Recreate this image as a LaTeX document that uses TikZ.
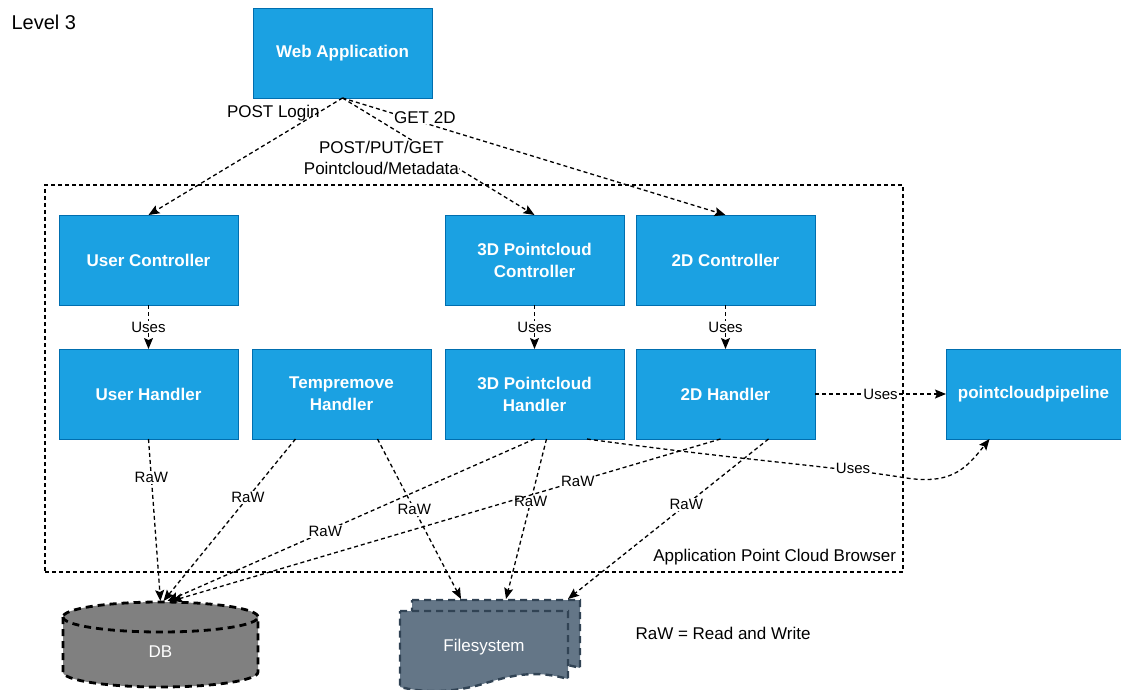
\documentclass[tikz,border=0pt]{standalone}
\usepackage{fontspec}
\setmainfont{Liberation Sans}
\usetikzlibrary{positioning,arrows.meta,calc}

\definecolor{compfill}{HTML}{1BA1E2}
\definecolor{compline}{HTML}{006EAF}
\definecolor{dbgray}{HTML}{808080}
\definecolor{fsfill}{HTML}{647687}
\definecolor{fsline}{HTML}{314354}

\tikzset{
  comp/.style={draw=compline, fill=compfill, text=white, align=center,
    minimum width=179pt, minimum height=90pt, outer sep=0pt,
    font=\fontsize{17}{22}\selectfont\bfseries},
  link/.style={line width=1.3pt, dash pattern=on 4pt off 3pt,
    -{Stealth[length=11pt,width=9pt,inset=2pt]}},
  lbl/.style={fill=white, inner sep=1pt, font=\fontsize{17}{21}\selectfont},
  rlbl/.style={fill=white, inner sep=1pt, font=\fontsize{15}{17}\selectfont},
}

\begin{document}
\begin{tikzpicture}[x=1pt, y=-1pt]
    \useasboundingbox (0,0) rectangle (1121,690);
    % Nodes
    \node[anchor=west, font=\fontsize{20}{24}\selectfont] (lvl) at (8,22) {Level 3};
    \node[comp] (web) at (342.5,53) {Web Application};

    \node[draw, line width=1.3pt, dash pattern=on 4pt off 3pt,
      minimum width=858pt, minimum height=387pt] (app) at (474,378.5) {};
    \node[anchor=south east, font=\fontsize{17}{21}\selectfont]
      (applbl) at ([xshift=-4pt,yshift=4pt]app.south east) {Application Point Cloud Browser};

    \node[comp] (uctrl) at (148.5,260) {User Controller};
    \node[comp] (pctrl) at (534.5,260) {3D Pointcloud\\Controller};
    \node[comp, right=12pt of pctrl] (dctrl) {2D Controller};

    \node[comp, below=44pt of uctrl] (uhand) {User Handler};
    \node[comp, right=14pt of uhand] (thand) {Tempremove\\Handler};
    \node[comp, right=14pt of thand] (phand) {3D Pointcloud\\Handler};
    \node[comp, right=12pt of phand] (dhand) {2D Handler};
    \node[comp, minimum width=175pt, right=131pt of dhand] (pipe) {pointcloudpipeline};

    % DB
    \draw[fill=dbgray, line width=2.8pt, dash pattern=on 7pt off 5pt]
      (63,617) -- (63,672) arc[start angle=180, end angle=0, x radius=97.5, y radius=15]
      -- (258,617) arc[start angle=0, end angle=-180, x radius=97.5, y radius=15] -- cycle;
    \draw[line width=2.8pt, dash pattern=on 7pt off 5pt]
      (63,617) arc[start angle=180, end angle=0, x radius=97.5, y radius=15];
    \node[text=white, font=\fontsize{17}{20}\selectfont] (db) at (160.5,652) {DB};
    \coordinate (dbtop) at (160.5,601);

    % Filesystem
    \draw[draw=fsline, fill=fsfill, line width=2.4pt, dash pattern=on 7pt off 5pt]
      (412,600) -- (580,600) -- (580,668) .. controls (552,660) and (530,662) .. (498,672)
      .. controls (466,682) and (436,682) .. (412,676) -- cycle;
    \draw[draw=fsline, fill=fsfill, line width=2.4pt, dash pattern=on 7pt off 5pt]
      (400,611) -- (568,611) -- (568,679) .. controls (540,671) and (518,673) .. (486,683)
      .. controls (454,693) and (424,693) .. (400,687) -- cycle;
    \node[text=white, font=\fontsize{17}{20}\selectfont] (fs) at (484,647) {Filesystem};
    \coordinate (fstop) at (490,599);

    \node[anchor=west, font=\fontsize{17}{21}\selectfont] (legend) at (632,633) {RaW = Read and Write};

    % Arrows
    \draw[link] (web.south) -- (uctrl.north)
      node[lbl, pos=0.13, anchor=east, xshift=4pt, fill=none] {POST Login};
    \draw[link] (web.south) -- (pctrl.north)
      node[lbl, pos=0.51, xshift=-59pt, align=center, inner sep=0pt] {POST/PUT/GET\\Pointcloud/Metadata};
    \draw[link] (web.south) -- (dctrl.north)
      node[lbl, pos=0.215, yshift=6pt] {GET 2D};

    \draw[link] (uctrl) -- (uhand) node[rlbl, midway] {Uses};
    \draw[link] (pctrl) -- (phand) node[rlbl, midway] {Uses};
    \draw[link] (dctrl) -- (dhand) node[rlbl, midway] {Uses};
    \draw[link] (dhand) -- (pipe) node[rlbl, midway] {Uses};
    \draw[link] ([xshift=-37pt]phand.south east)
      .. controls (740,460) and (830,466) .. (900,477)
      .. controls (950,486) and (965,470) .. ([xshift=-44pt]pipe.south);
    \node[rlbl] (usescurve) at (853,468) {Uses};

    \draw[link] (uhand.south) -- (dbtop) node[rlbl, pos=0.24] {RaW};
    \draw[link] ([xshift=-46pt]thand.south) -- ([xshift=3pt]dbtop) node[rlbl, pos=0.36] {RaW};
    \draw[link] ([xshift=36pt]thand.south) -- ([xshift=-29pt]fstop) node[rlbl, pos=0.44] {RaW};
    \draw[link] ([xshift=0pt]phand.south) -- ([xshift=7pt]dbtop) node[rlbl, pos=0.57] {RaW};
    \draw[link] ([xshift=12pt]phand.south) -- ([xshift=16pt]fstop) node[rlbl, pos=0.39] {RaW};
    \draw[link] ([xshift=-5pt]dhand.south) -- ([xshift=11pt]dbtop) node[rlbl, pos=0.26] {RaW};
    \draw[link] ([xshift=43pt]dhand.south) -- ([xshift=78pt]fstop) node[rlbl, pos=0.41] {RaW};
\end{tikzpicture}
\end{document}
